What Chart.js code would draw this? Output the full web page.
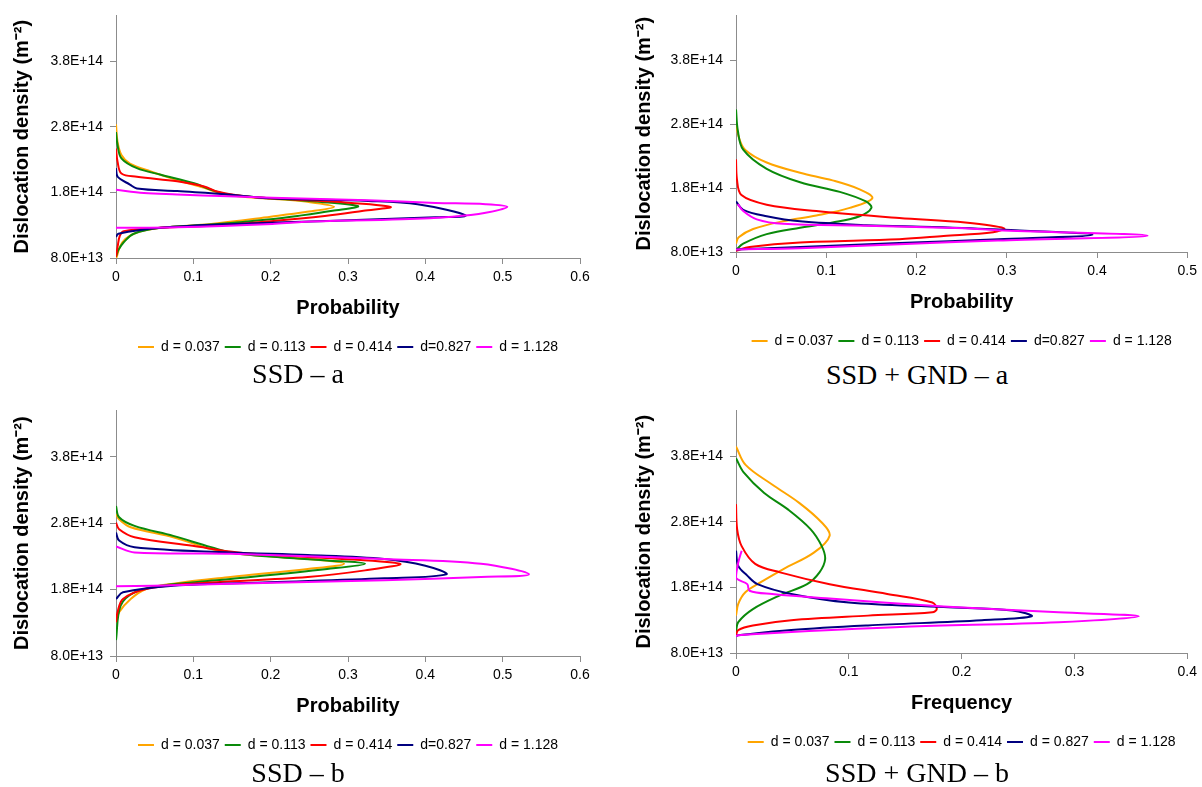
<!DOCTYPE html>
<html>
<head>
<meta charset="utf-8">
<script src="https://cdn.jsdelivr.net/npm/chart.js@4.4.1/dist/chart.umd.min.js"></script>
<style>
  body { margin: 0; background: #fff; width: 1202px; height: 787px; position: relative; overflow: hidden; }
  canvas { position: absolute; }
  .cap { position: absolute; font: 28px "Liberation Serif", "Times New Roman", serif; line-height: 28px; white-space: nowrap; transform: translateX(-50%); color: #000; }
</style>
</head>
<body>
<canvas id="ssdA" width="600" height="364" style="left:0;top:0"></canvas>
<canvas id="gndA" width="602" height="358" style="left:600px;top:0"></canvas>
<canvas id="ssdB" width="600" height="367" style="left:0;top:395px"></canvas>
<canvas id="gndB" width="602" height="364" style="left:600px;top:395px"></canvas>
<div class="cap" style="left:298px;top:360px">SSD – a</div>
<div class="cap" style="left:917px;top:361px">SSD + GND – a</div>
<div class="cap" style="left:298px;top:759px">SSD – b</div>
<div class="cap" style="left:917px;top:759px">SSD + GND – b</div>
<script>
// y axis ticks (dislocation density, m^-2)
const densityTicks = [8e13, 1.8e14, 2.8e14, 3.8e14];
const densityTickLabels = ['8.0E+13', '1.8E+14', '2.8E+14', '3.8E+14'];
const densityMin = 8e13;
const densityMax = 4.5e14;

const seriesNames = ['d = 0.037', 'd = 0.113', 'd = 0.414', 'd=0.827', 'd = 1.128'];
const seriesNamesGndB = ['d = 0.037', 'd = 0.113', 'd = 0.414', 'd = 0.827', 'd = 1.128'];
const lineColors = ['#FFA500', '#0A8A0A', '#FF0000', '#00007F', '#FF00FF'];

// points are [density in 1E13 m^-2, probability]
// SSD - a
const ssdA037 = [[28.4,0],[25.7,0.002],[23.7,0.007],[22.4,0.018],[21.2,0.045],[19.9,0.079],[18.7,0.114],[17.8,0.136],[17.3,0.167],[17.0,0.205],[16.6,0.245],[15.8,0.282],[15.0,0.245],[14.3,0.2],[13.2,0.123],[12.6,0.058],[11.9,0.027],[10.9,0.012],[9.7,0.005],[8.2,0.001],[8.0,0]];
const ssdA113 = [[27.2,0],[25.2,0.002],[23.2,0.007],[21.7,0.027],[20.7,0.058],[19.4,0.101],[18.4,0.123],[17.7,0.145],[17.1,0.2],[16.6,0.26],[15.9,0.313],[15.2,0.28],[14.5,0.24],[13.9,0.2],[13.1,0.123],[12.6,0.058],[11.7,0.023],[10.4,0.01],[9.2,0.003],[8.2,0]];
const ssdA414 = [[24.7,0],[22.7,0.002],[20.9,0.007],[20.4,0.027],[19.7,0.079],[18.9,0.114],[18.1,0.132],[17.4,0.167],[17.1,0.2],[16.6,0.28],[15.8,0.355],[15.2,0.32],[14.4,0.27],[13.6,0.2],[12.9,0.123],[12.6,0.058],[12.1,0.01],[11.4,0.005],[9.7,0.002],[8.2,0]];
const ssdA827 = [[21.7,0],[20.4,0.002],[19.2,0.018],[18.6,0.027],[18.2,0.079],[17.7,0.145],[17.1,0.2],[16.7,0.326],[16.2,0.39],[14.5,0.452],[14.2,0.413],[13.7,0.283],[13.2,0.153],[12.6,0.058],[11.7,0.003],[11.2,0]];
const ssdA1128 = [[18.4,0],[17.9,0.036],[17.7,0.079],[17.4,0.145],[17.2,0.202],[16.8,0.326],[16.4,0.413],[16.2,0.478],[15.8,0.506],[14.9,0.478],[14.3,0.435],[13.9,0.37],[13.5,0.24],[13.2,0.202],[12.7,0.079],[12.6,0]];

// SSD + GND - a
const gndA037 = [[28.1,0],[26.0,0.003],[24.0,0.01],[22.0,0.034],[20.4,0.071],[19.2,0.107],[17.8,0.137],[16.4,0.151],[14.9,0.126],[13.7,0.089],[12.8,0.052],[11.6,0.019],[10.3,0.003],[9.3,0]];
const gndA113 = [[30.3,0],[27.0,0.002],[24.0,0.008],[21.0,0.034],[18.9,0.071],[17.4,0.115],[15.9,0.144],[14.9,0.15],[13.6,0.137],[12.6,0.107],[11.8,0.071],[10.8,0.034],[9.3,0.008],[8.3,0]];
const gndA414 = [[22.5,0],[19.4,0.001],[16.9,0.006],[15.4,0.034],[14.4,0.089],[13.3,0.181],[12.6,0.254],[11.7,0.297],[11.1,0.285],[10.5,0.23],[10.0,0.181],[9.5,0.071],[8.8,0.015],[8.2,0]];
const gndA827 = [[15.9,0],[14.6,0.008],[13.6,0.034],[12.8,0.071],[12.2,0.144],[11.9,0.218],[11.5,0.291],[10.7,0.395],[10.0,0.291],[9.4,0.181],[8.8,0.071],[8.4,0]];
const gndA1128 = [[15.5,0.002],[14.4,0.008],[13.1,0.023],[12.4,0.052],[12.1,0.144],[11.7,0.254],[11.4,0.29],[10.55,0.456],[9.8,0.29],[9.2,0.181],[8.6,0.071],[8.4,0]];

// SSD - b
const ssdB037 = [[29.4,0],[28.6,0.004],[27.4,0.019],[25.9,0.074],[24.1,0.123],[23.4,0.158],[22.6,0.248],[21.9,0.295],[21.1,0.248],[19.9,0.148],[18.9,0.074],[18.1,0.039],[16.6,0.019],[14.6,0.004],[13.1,0]];
const ssdB113 = [[30.6,0],[28.9,0.004],[27.6,0.024],[26.1,0.074],[24.4,0.123],[23.4,0.158],[22.4,0.273],[21.9,0.322],[21.1,0.273],[19.6,0.148],[18.6,0.059],[17.6,0.024],[15.6,0.006],[10.4,0]];
const ssdB414 = [[28.1,0],[27.1,0.004],[25.9,0.024],[24.6,0.099],[23.6,0.158],[22.9,0.248],[21.9,0.367],[20.9,0.322],[19.9,0.248],[18.9,0.099],[18.1,0.039],[16.6,0.009],[14.6,0.002],[13.1,0]];
const ssdB827 = [[26.6,0],[25.4,0.004],[24.4,0.024],[23.6,0.148],[23.2,0.248],[22.6,0.347],[21.6,0.4],[20.3,0.427],[19.7,0.347],[19.1,0.198],[18.6,0.074],[17.6,0.009],[16.6,0]];
const ssdB1128 = [[24.5,0],[23.6,0.024],[23.4,0.148],[22.6,0.347],[21.9,0.472],[20.3,0.534],[19.9,0.472],[19.4,0.347],[18.9,0.148],[18.6,0.049],[18.5,0]];

// SSD + GND - b
const gndB037 = [[39.5,0],[36.7,0.0085],[33.7,0.032],[30.9,0.056],[27.9,0.076],[25.9,0.083],[23.3,0.069],[20.8,0.042],[18.8,0.022],[17.3,0.0085],[15.5,0.002],[13.7,0]];
const gndB113 = [[37.7,0],[35.5,0.007],[32.4,0.025],[29.9,0.046],[26.9,0.066],[24.3,0.076],[22.3,0.079],[20.3,0.074],[18.5,0.063],[16.8,0.039],[14.7,0.015],[12.7,0.002],[11.2,0]];
const gndB414 = [[30.7,0],[26.9,0.001],[24.3,0.005],[21.6,0.017],[20.3,0.039],[18.5,0.083],[17.0,0.134],[15.7,0.174],[14.7,0.178],[14.2,0.174],[13.7,0.117],[13.0,0.049],[12.2,0.015],[11.5,0.002],[10.7,0]];
const gndB827 = [[23.6,0],[21.3,0.002],[19.8,0.01],[18.5,0.019],[17.0,0.049],[15.7,0.1],[15.0,0.184],[14.5,0.245],[13.6,0.262],[13.0,0.218],[12.2,0.117],[11.5,0.049],[10.7,0.002],[10.6,0]];
const gndB1128 = [[23.6,0.005],[21.8,0.002],[19.5,0],[18.5,0.01],[17.5,0.012],[17.0,0.032],[16.3,0.083],[15.1,0.184],[14.2,0.286],[13.6,0.357],[12.7,0.286],[12.0,0.15],[11.2,0.049],[10.7,0.002],[10.6,0]];

Chart.defaults.font.family = '"Liberation Sans", Arial, sans-serif';
Chart.defaults.color = '#000';

const axisGrey = '#8c8c8c';

function makeChart(id, series, names, cfg) {
    new Chart(document.getElementById(id), {
        type: 'scatter',
        data: {
            datasets: series.map((pts, i) => ({
                label: names[i],
                data: pts.map(([rho, p]) => ({ x: p, y: rho * 1e13 })),
                showLine: true,
                borderColor: lineColors[i],
                backgroundColor: lineColors[i],
                borderWidth: 2,
                pointRadius: 0,
                tension: 0.35,
                order: series.length - i
            }))
        },
        options: {
            responsive: false,
            animation: false,
            events: [],
            layout: { padding: cfg.pad },
            plugins: {
                tooltip: { enabled: false },
                legend: {
                    position: 'bottom',
                    fullSize: false,
                    labels: {
                        usePointStyle: true,
                        pointStyle: 'line',
                        pointStyleWidth: 16,
                        padding: 5,
                        font: { size: 14 },
                        sort: (a, b) => a.datasetIndex - b.datasetIndex
                    }
                }
            },
            scales: {
                x: {
                    type: 'linear',
                    min: 0,
                    max: cfg.xMax,
                    ticks: { stepSize: 0.1, padding: 5, font: { size: 14 } },
                    grid: { display: true, drawOnChartArea: false, drawTicks: true, tickLength: 6, color: axisGrey },
                    border: { display: true, color: axisGrey },
                    title: { display: true, text: cfg.xTitle, font: { size: 20, weight: 'bold' }, padding: { top: 0, bottom: 15 } },
                    afterFit: s => { s.height = 77; }
                },
                y: {
                    type: 'linear',
                    min: densityMin,
                    max: densityMax,
                    afterBuildTicks: s => { s.ticks = densityTicks.map(v => ({ value: v })); },
                    ticks: {
                        padding: 7,
                        font: { size: 14 },
                        callback: v => densityTickLabels[densityTicks.indexOf(v)]
                    },
                    grid: { display: true, drawOnChartArea: false, drawTicks: true, tickLength: 6, color: axisGrey },
                    border: { display: true, color: axisGrey },
                    title: { display: true, text: 'Dislocation density (m⁻²)', font: { size: 20, weight: 'bold' }, padding: { top: cfg.yTitlePad, bottom: 0 } },
                    afterFit: s => { s.width = cfg.yWidth; }
                }
            }
        }
    });
}

makeChart('ssdA', [ssdA037, ssdA113, ssdA414, ssdA827, ssdA1128], seriesNames,
    { xMax: 0.6, xTitle: 'Probability', pad: { left: 0, right: 20, top: 12, bottom: 0 }, yWidth: 116, yTitlePad: 10 });
makeChart('gndA', [gndA037, gndA113, gndA414, gndA827, gndA1128], seriesNames,
    { xMax: 0.5, xTitle: 'Probability', pad: { left: 0, right: 12, top: 12, bottom: 0 }, yWidth: 136, yTitlePad: 32 });
makeChart('ssdB', [ssdB037, ssdB113, ssdB414, ssdB827, ssdB1128], seriesNames,
    { xMax: 0.6, xTitle: 'Probability', pad: { left: 0, right: 20, top: 15, bottom: 0 }, yWidth: 116, yTitlePad: 10 });
makeChart('gndB', [gndB037, gndB113, gndB414, gndB827, gndB1128], seriesNamesGndB,
    { xMax: 0.4, xTitle: 'Frequency', pad: { left: 0, right: 11, top: 14, bottom: 0 }, yWidth: 136, yTitlePad: 32 });
</script>
</body>
</html>
